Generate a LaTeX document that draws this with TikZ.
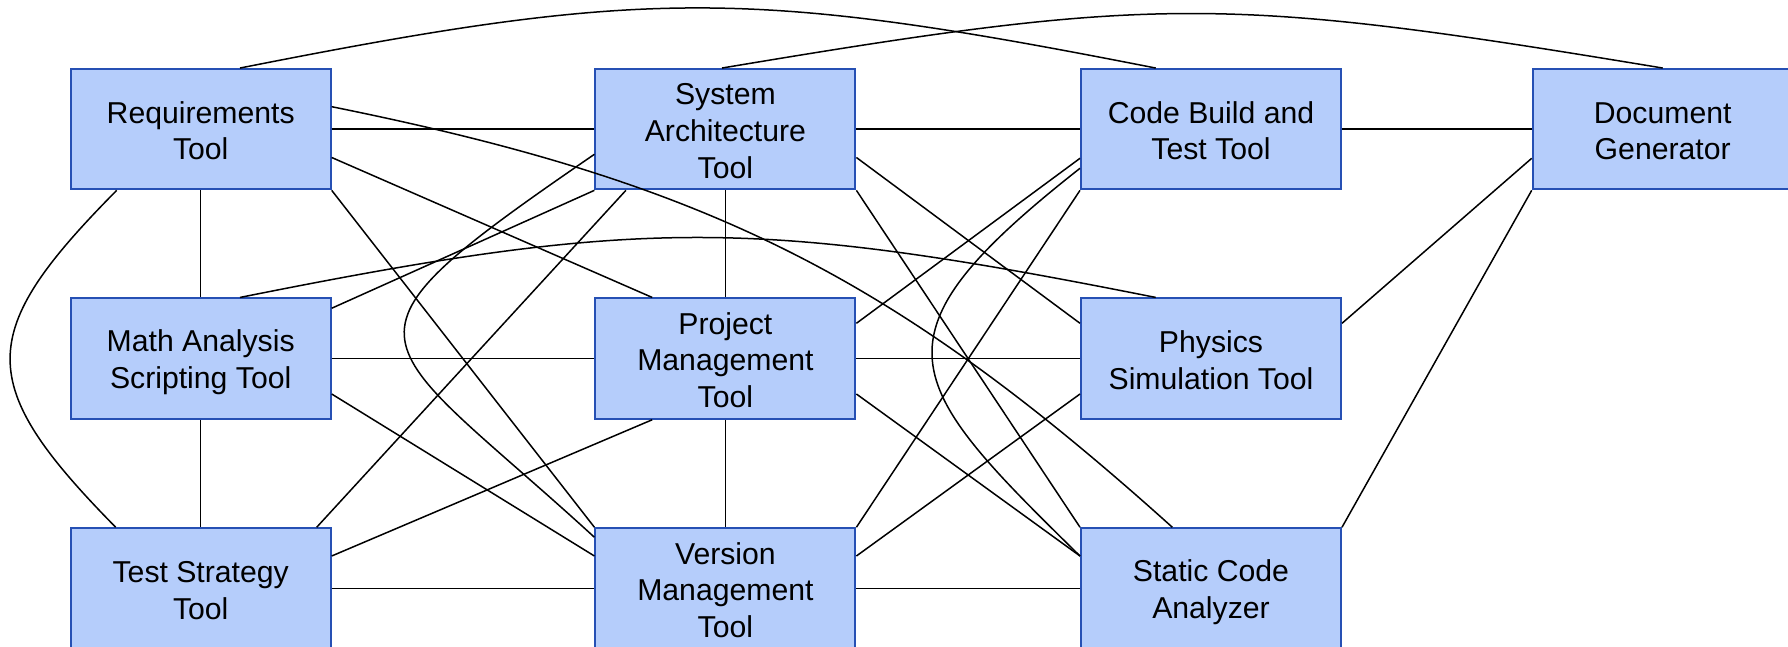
\documentclass[tikz,border=0pt]{standalone}
\usepackage{fontspec}
\setmainfont{Liberation Sans}
\usetikzlibrary{calc}
\definecolor{boxfill}{RGB}{181,205,251}
\definecolor{boxline}{RGB}{38,80,180}
\newcommand{\tstrut}{\rule[-2.5pt]{0pt}{17.3pt}}
\begin{document}
\begin{tikzpicture}[x=0.5pt,y=-0.5pt,
  tool/.style={draw=boxline,fill=boxfill,line width=1pt,minimum width=130pt,minimum height=60.15pt,inner sep=0pt,align=center,font=\fontsize{15.1pt}{18.35pt}\selectfont},
  link/.style={draw=black,line width=0.75pt}]
\useasboundingbox (0,0) rectangle (1788,647);
% nodes
\node[tool] (R)  at (200.7,129.2) {\tstrut Requirements\\Tool\tstrut};
\node[tool] (SA) at (725.4,129.2) {\tstrut System\\Architecture\\Tool\tstrut};
\node[tool] (CB) at (1211,129.2) {\tstrut Code Build and\\Test Tool\tstrut};
\node[tool] (DG) at (1662.7,129.2) {\tstrut Document\\Generator\tstrut};
\node[tool] (MA) at (200.7,358.6) {\tstrut Math Analysis\\Scripting Tool\tstrut};
\node[tool] (PM) at (725.4,358.6) {\tstrut Project\\Management\\Tool\tstrut};
\node[tool] (PS) at (1211,358.6) {\tstrut Physics\\Simulation Tool\tstrut};
\node[tool] (TS) at (200.7,588.4) {\tstrut Test Strategy\\Tool\tstrut};
\node[tool] (VM) at (725.4,588.4) {\tstrut Version\\Management\\Tool\tstrut};
\node[tool] (SC) at (1211,588.4) {\tstrut Static Code\\Analyzer\tstrut};
% straight horizontal / vertical
\draw[link] (R) -- (SA);
\draw[link] (SA) -- (CB);
\draw[link] (CB) -- (DG);
\draw[link] (MA) -- (PM);
\draw[link] (PM) -- (PS);
\draw[link] (TS) -- (VM);
\draw[link] (VM) -- (SC);
\draw[link] (R) -- (MA);
\draw[link] (MA) -- (TS);
\draw[link] (SA) -- (PM);
\draw[link] (PM) -- (VM);
% diagonals
\draw[link] ($(R.east)+(0,28.3)$) -- ($(PM.north west)+(57.8,0)$);
\draw[link] (R.south east) -- (VM.north west);
\draw[link] (SA.south west) -- ($(MA.north east)+(0,10.8)$);
\draw[link] ($(SA.south west)+(31.5,0)$) -- ($(TS.north east)+(-15,0)$);
\draw[link] ($(SA.east)+(0,28.3)$) -- ($(PS.west)+(0,-35.3)$);
\draw[link] (SA.south east) -- (SC.north west);
\draw[link] ($(MA.east)+(0,35.4)$) -- ($(VM.west)+(0,-32.4)$);
\draw[link] ($(PM.south west)+(57.8,0)$) -- ($(TS.east)+(0,-32.4)$);
\draw[link] ($(PM.east)+(0,-35.3)$) -- ($(CB.west)+(0,29.1)$);
\draw[link] ($(PM.east)+(0,35.4)$) -- ($(SC.west)+(0,-32.4)$);
\draw[link] (CB.south west) -- (VM.north east);
\draw[link] ($(PS.west)+(0,35.4)$) -- ($(VM.east)+(0,-32.4)$);
\draw[link] ($(PS.east)+(0,-35.3)$) -- ($(DG.west)+(0,29.1)$);
\draw[link] (DG.south west) -- (SC.north east);
% curves
\draw[link] ($(R.north west)+(170.3,0)$) .. controls (647,-12.6) and (750.7,-11.6) .. ($(CB.north west)+(75.7,0)$);
\draw[link] ($(SA.north)+(-3.4,0)$) .. controls (1158,-5) and (1225.8,-4.3) .. (DG.north);
\draw[link] ($(MA.north west)+(170.3,0)$) .. controls (641,217) and (756.7,218) .. ($(PS.north west)+(75.7,0)$);
\draw[link] ($(R.east)+(0,-22.5)$) .. controls (708,182.7) and (893,276) .. ($(SC.north west)+(92.3,0)$);
\draw[link] ($(SA.west)+(0,25.1)$) .. controls (315,346) and (368,330) .. ($(VM.north west)+(0,10)$);
\draw[link] ($(CB.west)+(0,39.1)$) .. controls (864.5,337.7) and (901.6,381.3) .. ($(SC.west)+(0,-32.4)$);
\draw[link] ($(R.south west)+(47,0)$) .. controls (-24.7,333.1) and (-25.9,383.5) .. ($(TS.north west)+(46,0)$);
\end{tikzpicture}
\end{document}
